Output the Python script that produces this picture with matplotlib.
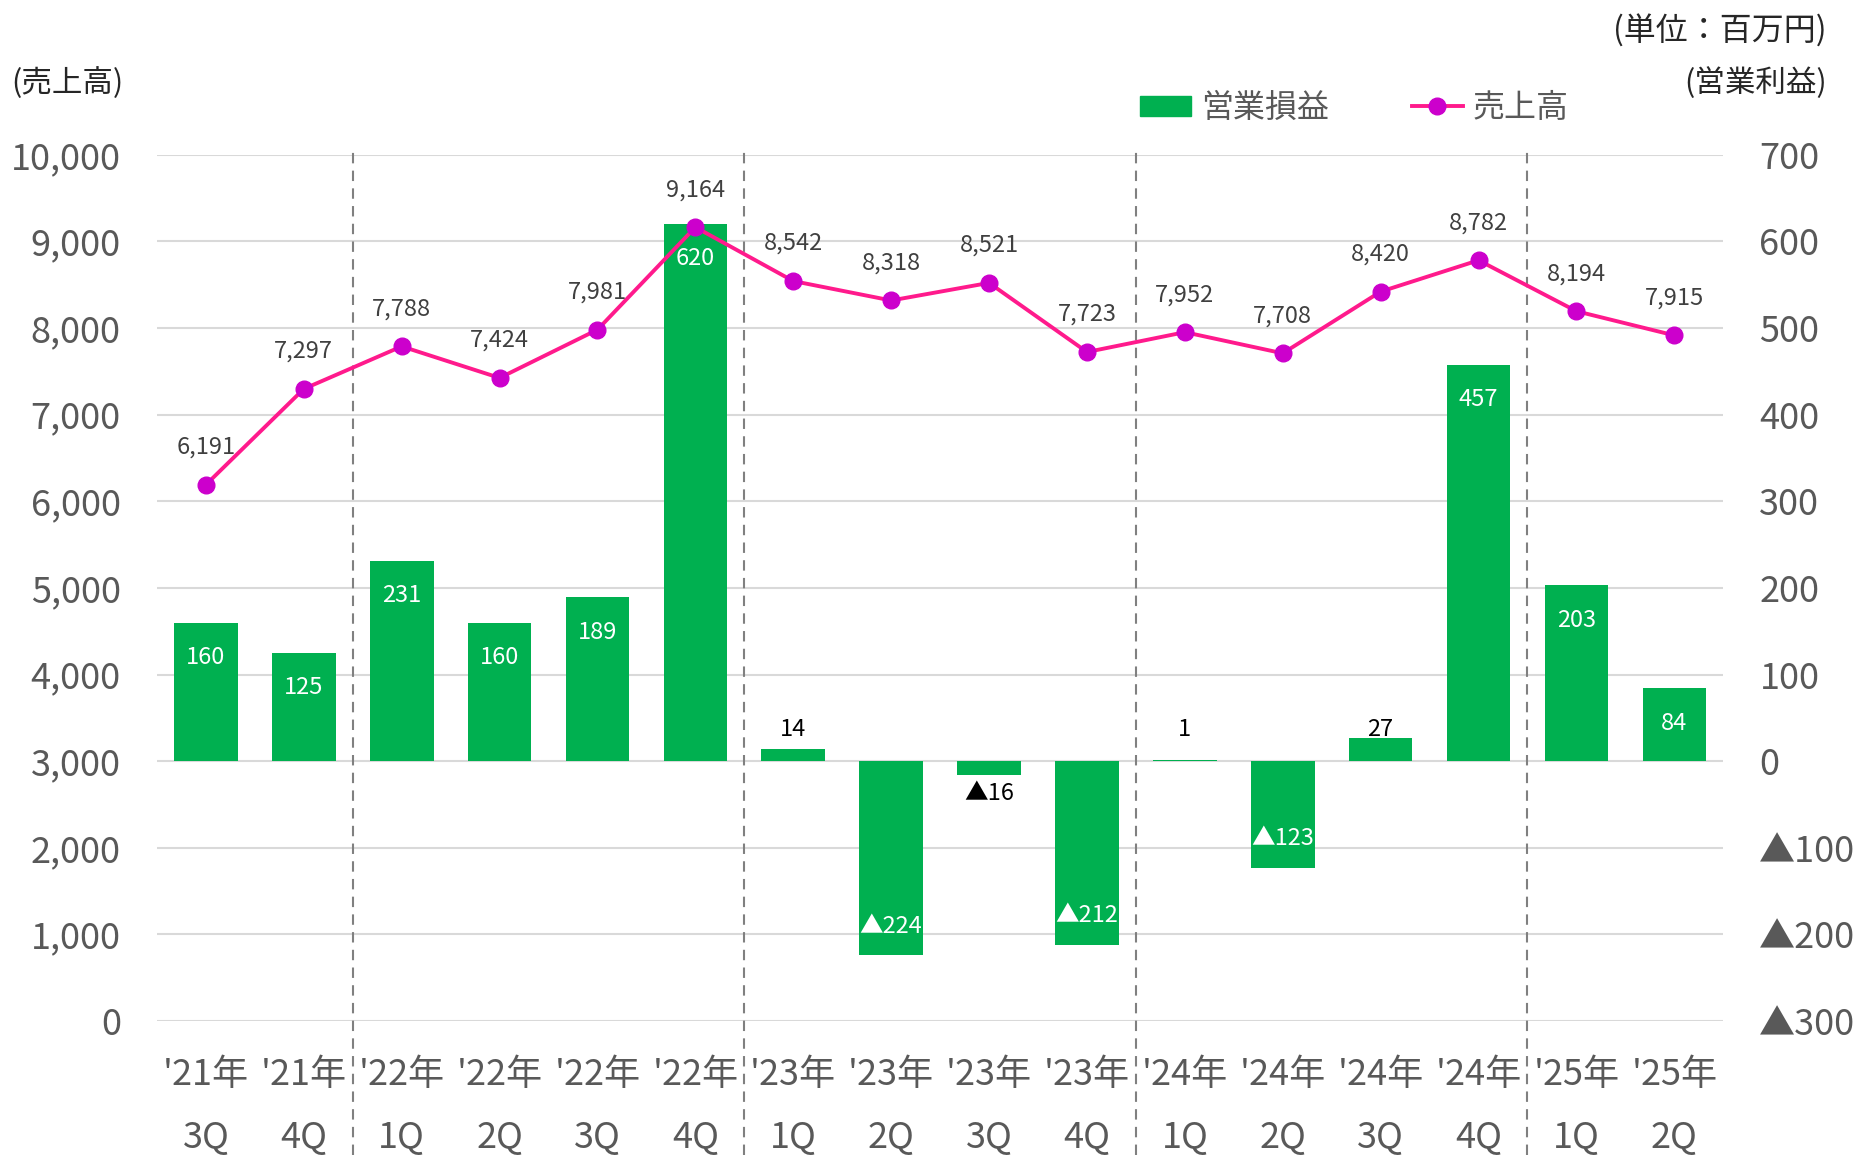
import numpy as np
import matplotlib
matplotlib.use('Agg')
from matplotlib import pyplot as plt
from matplotlib.patches import Patch
from matplotlib.lines import Line2D

plt.rcParams['font.family'] = ['Noto Sans CJK JP', 'DejaVu Sans']

# quarters on the x axis (two lines each)
years = ["'21年", "'21年", "'22年", "'22年", "'22年", "'22年", "'23年", "'23年",
         "'23年", "'23年", "'24年", "'24年", "'24年", "'24年", "'25年", "'25年"]
quarters = ['3Q', '4Q', '1Q', '2Q', '3Q', '4Q', '1Q', '2Q',
            '3Q', '4Q', '1Q', '2Q', '3Q', '4Q', '1Q', '2Q']

# 売上高 (left axis) and 営業損益 (right axis), 百万円
sales = [6191, 7297, 7788, 7424, 7981, 9164, 8542, 8318,
         8521, 7723, 7952, 7708, 8420, 8782, 8194, 7915]
profit = [160, 125, 231, 160, 189, 620, 14, -224,
          -16, -212, 1, -123, 27, 457, 203, 84]

# fiscal-year boundaries (between quarters)
year_breaks = [1.5, 5.5, 9.5, 13.5]

sales_ticks = list(range(0, 10001, 1000))
profit_ticks = list(range(-300, 701, 100))

GREEN = '#00B050'
PINK = '#FF1A8C'
MAG = '#CC00CC'
GRAY = '#595959'


def fmt_profit(v):
    if v < 0:
        return '▲' + str(-v)
    return str(v)


fig = plt.figure(figsize=(18.53, 11.55), dpi=100)
ax = fig.add_axes([0.0847, 0.116, 0.8453, 0.750])
ax2 = ax.twinx()

x = np.arange(len(sales))

# bars on the profit axis
ax2.bar(x, profit, width=0.65, color=GREEN, zorder=2)
ax2.set_ylim(-300, 700)
ax2.set_yticks(profit_ticks)
ax2.set_yticklabels([fmt_profit(v) for v in profit_ticks])
ax2.grid(axis='y', color='#D9D9D9', linewidth=1.5)
ax2.set_axisbelow(True)

for i, v in enumerate(profit):
    if abs(v) < 40:
        if v >= 0:
            ax2.annotate(fmt_profit(v), (i, 0), xytext=(0, 23), textcoords='offset points',
                         ha='center', va='center', fontsize=17, color='black')
        else:
            ax2.annotate(fmt_profit(v), (i, 0), xytext=(0, -23), textcoords='offset points',
                         ha='center', va='center', fontsize=17, color='black')
    elif v > 0:
        ax2.annotate(fmt_profit(v), (i, v), xytext=(0, -25), textcoords='offset points',
                     ha='center', va='center', fontsize=17, color='white')
    else:
        ax2.annotate(fmt_profit(v), (i, v), xytext=(0, 21), textcoords='offset points',
                     ha='center', va='center', fontsize=17, color='white')

# year separators, running down through the tick labels
for b in year_breaks:
    ax2.plot([b, b], [-0.155, 1.006], transform=ax2.get_xaxis_transform(),
             color='#808080', linewidth=1.5, dashes=(5, 3.5), clip_on=False, zorder=1)

# sales line on top
ax.set_zorder(ax2.get_zorder() + 1)
ax.patch.set_visible(False)
ax.plot(x, sales, color=PINK, linewidth=2.8, marker='o', markersize=12,
        markerfacecolor=MAG, markeredgecolor=MAG, zorder=3)
for i, v in enumerate(sales):
    ax.annotate(f'{v:,}', (i, v), xytext=(0, 27), textcoords='offset points',
                ha='center', va='center', fontsize=17, color='#404040')

ax.set_ylim(0, 10000)
ax.set_yticks(sales_ticks)
ax.set_yticklabels([f'{v:,}' for v in sales_ticks])
ax.set_xlim(-0.5, len(sales) - 0.5)
ax.set_xticks(x)
ax.set_xticklabels([y + '\n' + q for y, q in zip(years, quarters)], linespacing=1.95)

for a in (ax, ax2):
    for s in a.spines.values():
        s.set_visible(False)
ax.tick_params(axis='y', length=0, pad=26, labelsize=26, labelcolor=GRAY)
ax2.tick_params(axis='y', length=0, pad=26, labelsize=26, labelcolor=GRAY)
ax.tick_params(axis='x', length=0, pad=26, labelsize=26, labelcolor=GRAY)

# unit / axis captions
fig.text(0.986, 0.973, '(単位：百万円)', ha='right', va='center', fontsize=23, color='#262626')
fig.text(0.006, 0.928, '(売上高)', ha='left', va='center', fontsize=22, color='#262626')
fig.text(0.986, 0.928, '(営業利益)', ha='right', va='center', fontsize=22, color='#262626')

handles = [Patch(color=GREEN),
           Line2D([0], [0], color=PINK, linewidth=2.8, marker='o', markersize=12,
                  markerfacecolor=MAG, markeredgecolor=MAG)]
fig.legend(handles, ['営業損益', '売上高'], loc='center left',
           bbox_to_anchor=(1124 / 1853, 1 - 108 / 1155), ncol=2, frameon=False,
           fontsize=23, handlelength=1.6, handleheight=0.6, handletextpad=0.3,
           columnspacing=2.6, borderpad=0, labelcolor='#595959')

fig.savefig('out.png', dpi=100)
